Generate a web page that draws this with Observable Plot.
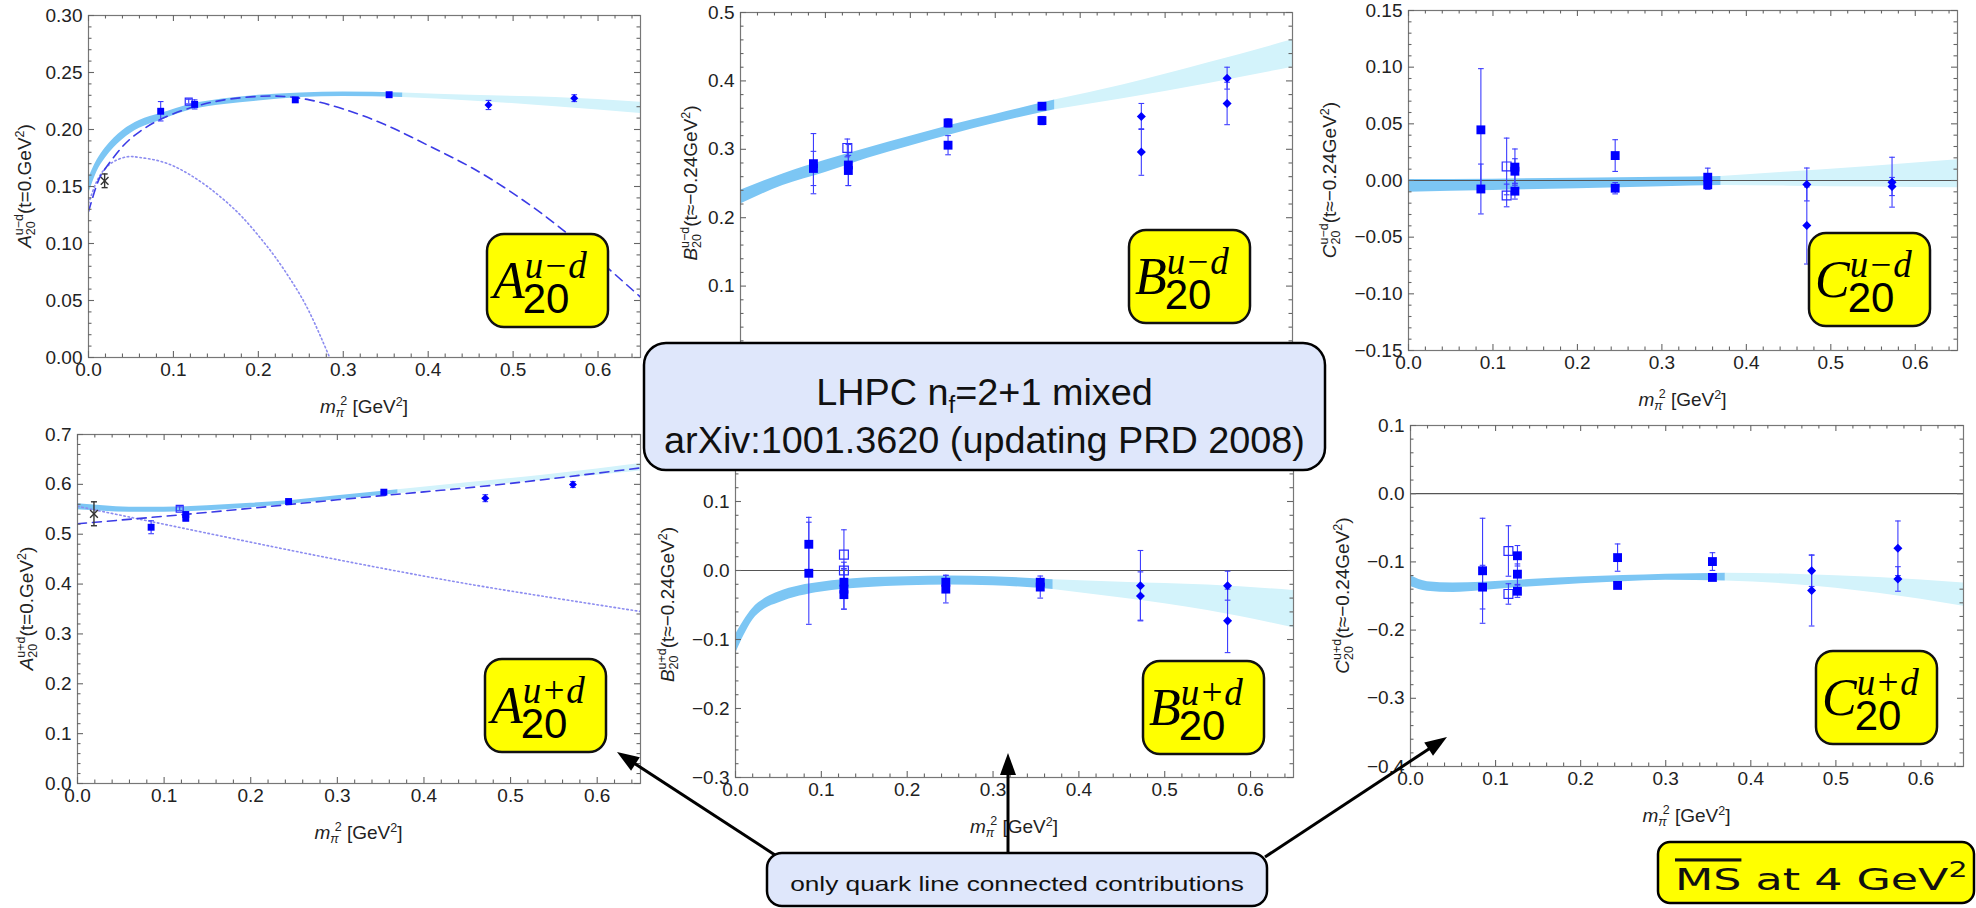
<!DOCTYPE html>
<html><head><meta charset="utf-8">
<script src="https://cdn.jsdelivr.net/npm/d3@7"></script>
<script src="https://cdn.jsdelivr.net/npm/@observablehq/plot@0.6"></script>
<style>
html,body{margin:0;padding:0;background:#fff;}
#page{position:relative;width:1976px;height:908px;overflow:hidden;background:#fff;}
#page > .panel{position:absolute;}
#overlay{position:absolute;left:0;top:0;}
</style></head><body><div id="page"></div>
<script>
// ---------------- DATA ----------------
const xTicks = [0, 0.1, 0.2, 0.3, 0.4, 0.5, 0.6];
const yTicks_Aud = [0, 0.05, 0.10, 0.15, 0.20, 0.25, 0.30];
const yTicks_Bud = [0.0, 0.1, 0.2, 0.3, 0.4, 0.5];
const yTicks_Cud = [-0.15, -0.10, -0.05, 0.00, 0.05, 0.10, 0.15];
const yTicks_Aupd = [0.0, 0.1, 0.2, 0.3, 0.4, 0.5, 0.6, 0.7];
const yTicks_Bupd = [-0.3, -0.2, -0.1, 0.0, 0.1, 0.2];
const yTicks_Cupd = [-0.4, -0.3, -0.2, -0.1, 0.0, 0.1];
// tick labels that are not covered by the title box
const yLabels_Bud = [0.1, 0.2, 0.3, 0.4, 0.5];
const yLabels_Bupd = [-0.3, -0.2, -0.1, 0.0, 0.1];

// A20 u-d (t=0)
const Aud_filled = [{x:0.085,y:0.216,e:0.0085},{x:0.125,y:0.222,e:0.004},{x:0.2435,y:0.226,e:0.002},{x:0.354,y:0.2305,e:0.002}];
const Aud_open = [{x:0.118,y:0.2245,e:0.002}];
const Aud_diamond = [{x:0.471,y:0.2215,e:0.004},{x:0.572,y:0.2275,e:0.003}];
const Aud_cross = [{x:0.019,y:0.155,e:0.006}];
const Aud_band = [[0,0.143,0.157],[0.01,0.163,0.173],[0.02,0.175,0.184],[0.04,0.191,0.199],[0.06,0.201,0.208],[0.085,0.208,0.214],[0.12,0.217,0.222],[0.16,0.222,0.227],[0.2,0.225,0.230],[0.25,0.228,0.232],[0.3,0.229,0.233],[0.37,0.228,0.232],[0.45,0.225,0.230],[0.55,0.220,0.228],[0.65,0.214,0.224]];
const Aud_dashed = [[0,0.128],[0.01,0.152],[0.02,0.166],[0.04,0.185],[0.06,0.198],[0.085,0.209],[0.12,0.219],[0.16,0.226],[0.2,0.229],[0.23,0.229],[0.26,0.226],[0.3,0.218],[0.35,0.204],[0.4,0.186],[0.45,0.167],[0.5,0.144],[0.55,0.117],[0.6,0.086],[0.65,0.053]];
const Aud_dotted = [[0,0.135],[0.01,0.155],[0.02,0.166],[0.03,0.172],[0.045,0.176],[0.06,0.1755],[0.08,0.173],[0.1,0.168],[0.12,0.160],[0.14,0.150],[0.16,0.138],[0.18,0.124],[0.2,0.107],[0.22,0.088],[0.24,0.066],[0.26,0.040],[0.284,0.0]];

// B20 u-d (t=-0.24)
const Bud_filled = [{x:0.0859,y:0.279,e:0.044},{x:0.0859,y:0.272,e:0.025},{x:0.127,y:0.277,e:0.030},{x:0.127,y:0.269,e:0.022},{x:0.2444,y:0.3385,e:0.006},{x:0.2444,y:0.306,e:0.014},{x:0.355,y:0.363,e:0.004},{x:0.355,y:0.342,e:0.006}];
const Bud_open = [{x:0.1258,y:0.302,e:0.013}];
const Bud_diamond = [{x:0.472,y:0.348,e:0.019},{x:0.472,y:0.296,e:0.034},{x:0.573,y:0.404,e:0.016},{x:0.573,y:0.367,e:0.031}];
const Bud_band = [[0,0.220,0.240],[0.05,0.247,0.264],[0.1,0.266,0.284],[0.15,0.287,0.302],[0.2,0.305,0.319],[0.25,0.322,0.336],[0.3,0.338,0.351],[0.37,0.358,0.372],[0.45,0.374,0.394],[0.55,0.396,0.426],[0.65,0.420,0.460]];

// C20 u-d (t=-0.24)
const Cud_filled = [{x:0.0857,y:0.0447,e:0.054},{x:0.0857,y:-0.0075,e:0.022},{x:0.126,y:0.0118,e:0.016},{x:0.126,y:0.0082,e:0.011},{x:0.126,y:-0.0094,e:0.007},{x:0.2447,y:0.022,e:0.014},{x:0.2447,y:-0.0068,e:0.005},{x:0.3543,y:0.0029,e:0.008},{x:0.3543,y:-0.0038,e:0.004}];
const Cud_open = [{x:0.1162,y:0.0124,e:0.025},{x:0.1162,y:-0.0132,e:0.010}];
const Cud_diamond = [{x:0.4716,y:-0.0035,e:0.0145},{x:0.4716,y:-0.0397,e:0.034},{x:0.5725,y:-0.0015,e:0.022},{x:0.5725,y:-0.0053,e:0.008}];
const Cud_band = [[0,-0.0103,0.0009],[0.1,-0.0088,0.0012],[0.2,-0.0072,0.002],[0.3,-0.0055,0.0028],[0.37,-0.0044,0.0035],[0.45,-0.005,0.0075],[0.55,-0.0058,0.0125],[0.65,-0.0065,0.0182]];

// A20 u+d (t=0)
const Aupd_filled = [{x:0.085,y:0.514,e:0.013},{x:0.125,y:0.5395,e:0.005},{x:0.125,y:0.532,e:0.005},{x:0.2437,y:0.5656,e:0.003},{x:0.3537,y:0.5843,e:0.004}];
const Aupd_open = [{x:0.118,y:0.551,e:0.004}];
const Aupd_diamond = [{x:0.4708,y:0.5723,e:0.007},{x:0.572,y:0.5997,e:0.006}];
const Aupd_cross = [{x:0.019,y:0.541,e:0.024}];
const Aupd_band = [[0,0.549,0.561],[0.03,0.546,0.557],[0.06,0.544,0.554],[0.1,0.544,0.554],[0.15,0.547,0.557],[0.2,0.553,0.562],[0.25,0.561,0.568],[0.3,0.569,0.577],[0.37,0.581,0.589],[0.45,0.594,0.603],[0.55,0.610,0.621],[0.65,0.627,0.642]];
const Aupd_dashed = [[0,0.521],[0.1,0.536],[0.2,0.552],[0.3,0.569],[0.4,0.585],[0.5,0.602],[0.65,0.633]];
const Aupd_dotted = [[0,0.556],[0.05,0.538],[0.1,0.520],[0.2,0.484],[0.3,0.449],[0.4,0.416],[0.5,0.386],[0.65,0.345]];

// B20 u+d (t=-0.24)
const Bupd_filled = [{x:0.0854,y:0.038,e:0.039},{x:0.0854,y:-0.004,e:0.074},{x:0.1263,y:-0.017,e:0.020},{x:0.1263,y:-0.027,e:0.029},{x:0.1263,y:-0.035,e:0.021},{x:0.245,y:-0.017,e:0.010},{x:0.245,y:-0.027,e:0.020},{x:0.355,y:-0.017,e:0.005},{x:0.355,y:-0.024,e:0.016}];
const Bupd_open = [{x:0.1263,y:0.023,e:0.036},{x:0.1263,y:0.0,e:0.012}];
const Bupd_diamond = [{x:0.4717,y:-0.022,e:0.051},{x:0.4717,y:-0.037,e:0.035},{x:0.5732,y:-0.022,e:0.021},{x:0.5732,y:-0.073,e:0.046}];
const Bupd_band = [[0,-0.121,-0.093],[0.01,-0.094,-0.072],[0.02,-0.072,-0.055],[0.035,-0.055,-0.040],[0.05,-0.047,-0.031],[0.075,-0.037,-0.022],[0.1,-0.031,-0.017],[0.15,-0.025,-0.011],[0.2,-0.022,-0.009],[0.25,-0.021,-0.008],[0.3,-0.022,-0.009],[0.37,-0.0275,-0.0135],[0.45,-0.040,-0.017],[0.55,-0.058,-0.021],[0.65,-0.083,-0.029]];

// C20 u+d (t=-0.24)
const Cupd_filled = [{x:0.0847,y:-0.113,e:0.077},{x:0.0847,y:-0.137,e:0.032},{x:0.1257,y:-0.091,e:0.015},{x:0.1257,y:-0.118,e:0.015},{x:0.1257,y:-0.143,e:0.009},{x:0.2434,y:-0.0937,e:0.020},{x:0.2434,y:-0.1345,e:0.004},{x:0.3549,y:-0.0995,e:0.013},{x:0.3549,y:-0.1228,e:0.003}];
const Cupd_open = [{x:0.1151,y:-0.084,e:0.037},{x:0.1151,y:-0.147,e:0.015}];
const Cupd_diamond = [{x:0.4715,y:-0.113,e:0.023},{x:0.4715,y:-0.142,e:0.052},{x:0.5729,y:-0.080,e:0.040},{x:0.5729,y:-0.125,e:0.018}];
const Cupd_band = [[0,-0.136,-0.120],[0.02,-0.143,-0.129],[0.05,-0.145,-0.131],[0.085,-0.142,-0.130],[0.125,-0.138,-0.127],[0.2,-0.132,-0.122],[0.25,-0.129,-0.120],[0.3,-0.127,-0.118],[0.37,-0.128,-0.1165],[0.45,-0.133,-0.118],[0.55,-0.146,-0.123],[0.65,-0.165,-0.131]];

// text
const titleLines = ["LHPC n", "f", "=2+1 mixed", "arXiv:1001.3620 (updating PRD 2008)"];
const noteText = "only quark line connected contributions";
const schemeText = ["MS", " at 4 GeV", "2"];

// ---------------- LAYOUT / STYLE ----------------
const FONT = "'Liberation Sans', Arial, sans-serif";
const BLUE = "#0000ff", ERR = "#3d3dff", DARKBAND = "#7cc6f4", LIGHTBAND = "#d3f3fb";
const SPLIT = 0.37;
const diamondSym = {draw(ctx, size) { const h = Math.sqrt(size / 2); ctx.moveTo(0, -h); ctx.lineTo(h, 0); ctx.lineTo(0, h); ctx.lineTo(-h, 0); ctx.closePath(); }};
const capSym = {draw(ctx, size) { const w = Math.sqrt(size) / 2; ctx.moveTo(-w, 0); ctx.lineTo(w, 0); }};

const page = document.getElementById("page");

function panel(cfg) {
  const {L, R, T, B} = cfg.frame;
  const mL = 80, mR = 10, mT = 14, mB = 40;
  const innerW = R - L, innerH = B - T;
  const [y0, y1] = cfg.yDomain;
  const xMinor = d3.range(0, 0.6501, 0.02).map(v => +v.toFixed(3)).filter(v => Math.abs(v * 10 - Math.round(v * 10)) > 1e-6);
  const yMinor = d3.range(y0, y1 + 1e-9, cfg.yMinorStep).map(v => +v.toFixed(4)).filter(v => !cfg.yTicks.some(t => Math.abs(t - v) < 1e-6));
  const all = [...cfg.filled, ...cfg.open, ...cfg.diamond];
  const rS = cfg.small ? 3.9 : 5.0, rD = cfg.small ? 3.2 : 3.6;
  const marks = [];
  if (cfg.band) {
    marks.push(Plot.areaY(cfg.band.filter(d => d[0] >= SPLIT - 1e-9), {x: d => d[0], y1: d => d[1], y2: d => d[2], fill: LIGHTBAND, curve: "monotone-x"}));
    marks.push(Plot.areaY(cfg.band.filter(d => d[0] <= SPLIT + 1e-9), {x: d => d[0], y1: d => d[1], y2: d => d[2], fill: DARKBAND, curve: "monotone-x"}));
  }
  if (cfg.zero) marks.push(Plot.ruleY([0], {stroke: "#555", strokeWidth: 1.2}));
  if (cfg.dotted) marks.push(Plot.line(cfg.dotted, {x: d => d[0], y: d => d[1], stroke: "#8c8cf0", strokeWidth: 1.6, strokeDasharray: "1.5,2.8", curve: "natural", clip: true}));
  if (cfg.dashed) marks.push(Plot.line(cfg.dashed, {x: d => d[0], y: d => d[1], stroke: "#3b3be6", strokeWidth: 1.6, strokeDasharray: "9,6", curve: "natural", clip: true}));
  // error bars
  marks.push(Plot.ruleX(all, {x: "x", y1: d => d.y - d.e, y2: d => d.y + d.e, stroke: ERR, strokeWidth: 1.1}));
  marks.push(Plot.dot(all, {x: "x", y: d => d.y - d.e, symbol: capSym, r: 3.2, stroke: ERR, fill: "none", strokeWidth: 1.1}));
  marks.push(Plot.dot(all, {x: "x", y: d => d.y + d.e, symbol: capSym, r: 3.2, stroke: ERR, fill: "none", strokeWidth: 1.1}));
  if (cfg.cross) {
    marks.push(Plot.ruleX(cfg.cross, {x: "x", y1: d => d.y - d.e, y2: d => d.y + d.e, stroke: "#333", strokeWidth: 1.4}));
    marks.push(Plot.dot(cfg.cross, {x: "x", y: d => d.y - d.e, symbol: capSym, r: 3.4, stroke: "#333", fill: "none", strokeWidth: 1.4}));
    marks.push(Plot.dot(cfg.cross, {x: "x", y: d => d.y + d.e, symbol: capSym, r: 3.4, stroke: "#333", fill: "none", strokeWidth: 1.4}));
    marks.push(Plot.dot(cfg.cross, {x: "x", y: "y", symbol: "times", r: 3.6, stroke: "#333", strokeWidth: 1.4}));
  }
  marks.push(Plot.dot(cfg.open, {x: "x", y: "y", symbol: "square", r: rS, fill: "none", stroke: "#2a2aff", strokeWidth: 1.2}));
  marks.push(Plot.dot(cfg.filled, {x: "x", y: "y", symbol: "square", r: rS, fill: BLUE}));
  marks.push(Plot.dot(cfg.diamond, {x: "x", y: "y", symbol: diamondSym, r: rD, fill: BLUE}));
  // frame and inward ticks (Mathematica style)
  marks.push(Plot.frame({stroke: "#777", strokeWidth: 1.2}));
  const tk = {stroke: "#666", strokeWidth: 1.1};
  marks.push(Plot.ruleX(xTicks, {x: d => d, insetTop: innerH - 6, ...tk}));
  marks.push(Plot.ruleX(xTicks, {x: d => d, insetBottom: innerH - 6, ...tk}));
  marks.push(Plot.ruleX(xMinor, {x: d => d, insetTop: innerH - 3.5, ...tk}));
  marks.push(Plot.ruleX(xMinor, {x: d => d, insetBottom: innerH - 3.5, ...tk}));
  marks.push(Plot.ruleY(cfg.yTicks, {y: d => d, insetRight: innerW - 6, ...tk}));
  marks.push(Plot.ruleY(cfg.yTicks, {y: d => d, insetLeft: innerW - 6, ...tk}));
  marks.push(Plot.ruleY(yMinor, {y: d => d, insetRight: innerW - 3.5, ...tk}));
  marks.push(Plot.ruleY(yMinor, {y: d => d, insetLeft: innerW - 3.5, ...tk}));
  if (cfg.xLabels !== false) marks.push(Plot.axisX({ticks: xTicks, tickSize: 0, tickPadding: 5, tickFormat: d3.format(".1f"), label: null}));
  marks.push(Plot.axisY({ticks: cfg.yLabelTicks || cfg.yTicks, tickSize: 0, tickPadding: 6, tickFormat: d3.format(cfg.yFmt), label: null}));
  const svg = Plot.plot({
    width: innerW + mL + mR, height: innerH + mT + mB,
    marginLeft: mL, marginRight: mR, marginTop: mT, marginBottom: mB,
    x: {domain: [0, 0.65], axis: null}, y: {domain: cfg.yDomain, axis: null},
    style: {fontFamily: FONT, fontSize: "19px", color: "#222", background: "transparent", overflow: "visible"},
    marks
  });
  svg.classList.add("panel");
  svg.style.position = "absolute";
  svg.style.left = (L - mL) + "px";
  svg.style.top = (T - mT) + "px";
  page.appendChild(svg);
}

const P = {
  Aud:  {L: 88,   R: 640,  T: 15,  B: 357},
  Bud:  {L: 740,  R: 1292, T: 12,  B: 354},
  Cud:  {L: 1408, R: 1957, T: 10,  B: 350},
  Aupd: {L: 77,   R: 640,  T: 434, B: 783},
  Bupd: {L: 735,  R: 1293, T: 432, B: 777},
  Cupd: {L: 1410, R: 1963, T: 425, B: 766}
};

panel({frame: P.Aud, yDomain: [0, 0.30], yTicks: yTicks_Aud, yMinorStep: 0.01, yFmt: ".2f", small: true,
  filled: Aud_filled, open: Aud_open, diamond: Aud_diamond, cross: Aud_cross, band: Aud_band, dashed: Aud_dashed, dotted: Aud_dotted});
panel({frame: P.Bud, yDomain: [0, 0.5], yTicks: yTicks_Bud, yLabelTicks: yLabels_Bud, xLabels: false, yMinorStep: 0.02, yFmt: ".1f",
  filled: Bud_filled, open: Bud_open, diamond: Bud_diamond, band: Bud_band});
panel({frame: P.Cud, yDomain: [-0.15, 0.15], yTicks: yTicks_Cud, yMinorStep: 0.01, yFmt: ".2f", zero: true,
  filled: Cud_filled, open: Cud_open, diamond: Cud_diamond, band: Cud_band});
panel({frame: P.Aupd, yDomain: [0, 0.7], yTicks: yTicks_Aupd, yMinorStep: 0.02, yFmt: ".1f", small: true,
  filled: Aupd_filled, open: Aupd_open, diamond: Aupd_diamond, cross: Aupd_cross, band: Aupd_band, dashed: Aupd_dashed, dotted: Aupd_dotted});
panel({frame: P.Bupd, yDomain: [-0.3, 0.2], yTicks: yTicks_Bupd, yLabelTicks: yLabels_Bupd, yMinorStep: 0.02, yFmt: ".1f", zero: true,
  filled: Bupd_filled, open: Bupd_open, diamond: Bupd_diamond, band: Bupd_band});
panel({frame: P.Cupd, yDomain: [-0.4, 0.1], yTicks: yTicks_Cupd, yMinorStep: 0.02, yFmt: ".1f", zero: true,
  filled: Cupd_filled, open: Cupd_open, diamond: Cupd_diamond, band: Cupd_band});

// ---------------- OVERLAY (labels, boxes, arrows) ----------------
const ov = d3.select(page).append("svg").attr("id", "overlay").attr("width", 1976).attr("height", 908)
  .style("font-family", FONT);

function yLabel(x, y, letter, sup, rest) {
  const t = ov.append("text").attr("transform", `translate(${x},${y}) rotate(-90)`).attr("text-anchor", "middle")
    .attr("font-size", 19).attr("fill", "#222");
  t.append("tspan").text(letter).attr("font-style", "italic");
  t.append("tspan").text("20").attr("font-size", 12.5).attr("dy", 4);
  t.append("tspan").text(sup).attr("font-size", 12.5).attr("dx", -14).attr("dy", -12);
  t.append("tspan").text(rest).attr("dy", 8);
  t.append("tspan").text("2").attr("font-size", 12.5).attr("dy", -7);
  t.append("tspan").text(")").attr("dy", 7);
}
function xLabel(f) {
  const t = ov.append("text").attr("x", (f.L + f.R) / 2).attr("y", f.B + 56).attr("text-anchor", "middle")
    .attr("font-size", 19).attr("fill", "#222");
  t.append("tspan").text("m").attr("font-style", "italic");
  t.append("tspan").text("π").attr("font-size", 12.5).attr("font-style", "italic").attr("dy", 4);
  t.append("tspan").text("2").attr("font-size", 12.5).attr("dx", -4).attr("dy", -12);
  t.append("tspan").text(" [GeV").attr("dy", 8);
  t.append("tspan").text("2").attr("font-size", 12.5).attr("dy", -7);
  t.append("tspan").text("]").attr("dy", 7);
}
yLabel(P.Aud.L - 57, (P.Aud.T + P.Aud.B) / 2, "A", "u−d", "(t=0.GeV");
yLabel(P.Bud.L - 43, (P.Bud.T + P.Bud.B) / 2, "B", "u−d", "(t≈−0.24GeV");
yLabel(P.Cud.L - 72, (P.Cud.T + P.Cud.B) / 2, "C", "u−d", "(t≈−0.24GeV");
yLabel(P.Aupd.L - 44, (P.Aupd.T + P.Aupd.B) / 2, "A", "u+d", "(t=0.GeV");
yLabel(P.Bupd.L - 61, (P.Bupd.T + P.Bupd.B) / 2, "B", "u+d", "(t≈−0.24GeV");
yLabel(P.Cupd.L - 61, (P.Cupd.T + P.Cupd.B) / 2, "C", "u+d", "(t≈−0.24GeV");
[P.Aud, P.Cud, P.Aupd, P.Bupd, P.Cupd].forEach(xLabel);

// yellow labels (one text element each: letter, superscript, stacked subscript)
const yBoxes = [
  {x: 487, y: 234, L: "A", s: "u−d"}, {x: 1129, y: 230, L: "B", s: "u−d"}, {x: 1809, y: 233, L: "C", s: "u−d"},
  {x: 485, y: 659, L: "A", s: "u+d"}, {x: 1143, y: 661, L: "B", s: "u+d"}, {x: 1816, y: 651, L: "C", s: "u+d"}
];
const SERIF = "'Liberation Serif', 'DejaVu Serif', serif";
yBoxes.forEach(b => {
  const g = ov.append("g").attr("transform", `translate(${b.x},${b.y})`);
  g.append("rect").attr("width", 121).attr("height", 93).attr("rx", 17).attr("fill", "#ffff00").attr("stroke", "#111").attr("stroke-width", 2.5);
  const t = g.append("text").attr("x", 6).attr("y", 64).attr("fill", "#000");
  t.append("tspan").text(b.L).attr("font-family", SERIF).attr("font-style", "italic").attr("font-size", 52);
  const sup = t.append("tspan").text(b.s).attr("font-family", SERIF).attr("font-style", "italic").attr("font-size", 37).attr("dy", -20);
  t.append("tspan").text("20").attr("font-family", FONT).attr("font-size", 42).attr("dy", 35).attr("id", "sub" + b.x);
  // place subscript under the superscript start
  const sNode = sup.node();
  const w = sNode.getComputedTextLength();
  t.select("tspan:last-child").attr("dx", -w - 2);
});

// arrows
function arrow(x1, y1, x2, y2) {
  const a = Math.atan2(y2 - y1, x2 - x1), len = 22, hw = 8;
  const bx = x2 - len * Math.cos(a), by = y2 - len * Math.sin(a);
  ov.append("line").attr("x1", x1).attr("y1", y1).attr("x2", bx + 2 * Math.cos(a)).attr("y2", by + 2 * Math.sin(a)).attr("stroke", "#000").attr("stroke-width", 3);
  ov.append("polygon").attr("points", [[x2, y2], [bx - hw * Math.sin(a), by + hw * Math.cos(a)], [bx + hw * Math.sin(a), by - hw * Math.cos(a)]].map(p => p.join(",")).join(" ")).attr("fill", "#000");
}
arrow(775, 855, 617, 752);
arrow(1008, 855, 1008, 753);
arrow(1265, 857, 1447, 737);

// main title box
ov.append("rect").attr("x", 644).attr("y", 343).attr("width", 681).attr("height", 127).attr("rx", 22)
  .attr("fill", "#dfe7fb").attr("stroke", "#000").attr("stroke-width", 2.5);
{
  const g1 = ov.append("g").attr("transform", "translate(984.5,405) scale(1.05,1)");
  const t1 = g1.append("text").attr("text-anchor", "middle").attr("font-size", 36).attr("fill", "#111");
  t1.append("tspan").text(titleLines[0]);
  t1.append("tspan").text(titleLines[1]).attr("font-size", 23).attr("dy", 8);
  t1.append("tspan").text(titleLines[2]).attr("dy", -8);
  const g2 = ov.append("g").attr("transform", "translate(984.5,453) scale(1.05,1)");
  g2.append("text").attr("text-anchor", "middle").attr("font-size", 36).attr("fill", "#111").text(titleLines[3]);
}
// note box
ov.append("rect").attr("x", 767).attr("y", 853).attr("width", 500).attr("height", 53).attr("rx", 15)
  .attr("fill", "#dfe7fb").attr("stroke", "#000").attr("stroke-width", 2.5);
ov.append("g").attr("transform", "translate(1017,891) scale(1.25,1)")
  .append("text").attr("text-anchor", "middle").attr("font-size", 21).attr("fill", "#111").text(noteText);
// scheme box
ov.append("rect").attr("x", 1658).attr("y", 842).attr("width", 316).attr("height", 61).attr("rx", 12)
  .attr("fill", "#ffff00").attr("stroke", "#000").attr("stroke-width", 2.5);
{
  const t = ov.append("g").attr("transform", "translate(1675,890) scale(1.43,1)")
    .append("text").attr("font-family", "'DejaVu Sans', sans-serif").attr("font-size", 31).attr("fill", "#111");
  t.append("tspan").text(schemeText[0]).style("text-decoration", "overline");
  t.append("tspan").text(schemeText[1]);
  t.append("tspan").text(schemeText[2]).attr("font-size", 21).attr("dy", -13);
}
</script></body></html>
